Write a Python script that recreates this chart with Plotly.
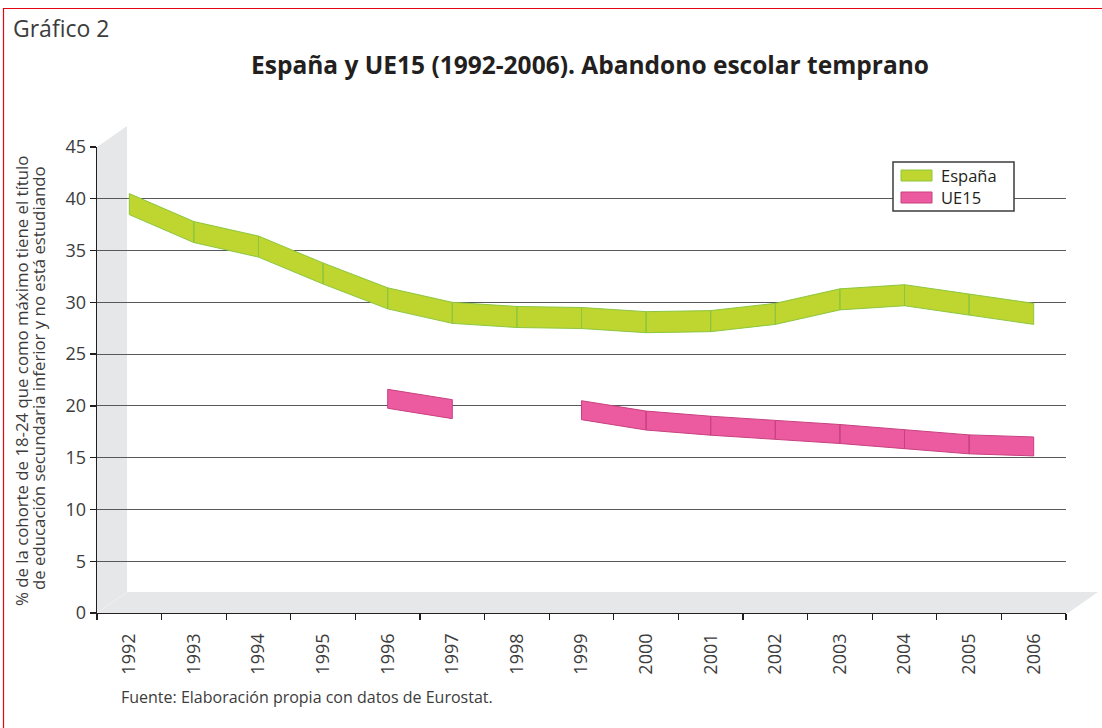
import plotly.graph_objects as go

# ---------------- data ----------------
years = ["1992", "1993", "1994", "1995", "1996", "1997", "1998", "1999",
         "2000", "2001", "2002", "2003", "2004", "2005", "2006"]
espana = [40.5, 37.8, 36.4, 33.8, 31.4, 30.0, 29.6, 29.5, 29.1, 29.2, 29.9, 31.3, 31.7, 30.8, 29.9]
ue15 = [None, None, None, None, 21.6, 20.6, None, 20.5, 19.5, 19.0, 18.6, 18.2, 17.7, 17.2, 17.0]
y_ticks = [0, 5, 10, 15, 20, 25, 30, 35, 40, 45]

# ---------------- layout geometry (page pixels) ----------------
W, H = 1102, 728
L, R, T, B = 97, 1066, 147, 613  # plot area edges in page pixels


def px(x):
    return (x - L) / (R - L)


def py(y):
    return (B - y) / (B - T)


FONT = "Open Sans"
TXT = "#231f20"
GREY_TXT = "#3c3c3c"


def ribbon(values, thick):
    xs, ys = [], []
    for i in range(len(values) - 1):
        a, b = values[i], values[i + 1]
        if a is None or b is None:
            continue
        xs += [i, i + 1, i + 1, i, i, None]
        ys += [a, b, b - thick, a - thick, a, None]
    return xs, ys


fig = go.Figure()

ex, ey = ribbon(espana, 2.03)
fig.add_trace(go.Scatter(x=ex, y=ey, mode="lines", fill="toself",
                         fillcolor="#bed62f", line=dict(color="#8cc63f", width=1),
                         name="España", showlegend=False, hoverinfo="skip"))
ux, uy = ribbon(ue15, 1.83)
fig.add_trace(go.Scatter(x=ux, y=uy, mode="lines", fill="toself",
                         fillcolor="#ec5ba0", line=dict(color="#c7417f", width=1),
                         name="UE15", showlegend=False, hoverinfo="skip"))
# dummy trace for boundary tick axis
fig.add_trace(go.Scatter(x=[-0.5], y=[0], xaxis="x2", mode="markers",
                         marker=dict(opacity=0), showlegend=False, hoverinfo="skip"))

n = len(years)
shapes = []
# gray 3D wall + floor
wall = [(97, 147), (127, 126), (127, 592), (1098, 592), (1068, 613), (97, 613)]
path = "M " + " L ".join(f"{px(x)},{py(y)}" for x, y in wall) + " Z"
shapes.append(dict(type="path", xref="paper", yref="paper", path=path,
                   fillcolor="#e6e7e8", line=dict(width=0), layer="below"))
shapes.append(dict(type="line", xref="paper", yref="paper", x0=px(97), y0=py(613),
                   x1=px(127), y1=py(592), line=dict(color="#f1f1f2", width=1), layer="below"))

# legend box
shapes.append(dict(type="rect", xref="paper", yref="paper", x0=px(893), y0=py(162),
                   x1=px(1014), y1=py(211), fillcolor="white",
                   line=dict(color="#3c3c3c", width=1.5), layer="above"))
shapes.append(dict(type="rect", xref="paper", yref="paper", x0=px(901), y0=py(170),
                   x1=px(932), y1=py(181), fillcolor="#bed62f",
                   line=dict(color="#8cc63f", width=1), layer="above"))
shapes.append(dict(type="rect", xref="paper", yref="paper", x0=px(901), y0=py(192),
                   x1=px(932), y1=py(203), fillcolor="#ec5ba0",
                   line=dict(color="#c7417f", width=1), layer="above"))
# red frame
shapes.append(dict(type="rect", xref="paper", yref="paper", x0=px(3.5), y0=py(8.5),
                   x1=px(1300), y1=py(900), fillcolor="rgba(0,0,0,0)",
                   line=dict(color="#e30613", width=1.2), layer="above"))

annotations = [
    dict(text="Gráfico 2", xref="paper", yref="paper", x=px(11), y=py(28),
         xanchor="left", yanchor="middle", showarrow=False,
         font=dict(family=FONT, size=23, color=GREY_TXT)),
    dict(text="<b>España y UE15 (1992-2006). Abandono escolar temprano</b>",
         xref="paper", yref="paper", x=px(590), y=py(64), xanchor="center",
         yanchor="middle", showarrow=False, font=dict(family=FONT, size=24.5, color=TXT)),
    dict(text="% de la cohorte de 18-24 que como máximo tiene el título",
         xref="paper", yref="paper", x=px(21), y=py(381), xanchor="center",
         yanchor="middle", textangle=-90, showarrow=False,
         font=dict(family=FONT, size=16.8, color=GREY_TXT)),
    dict(text="de educación secundaria inferior y no está estudiando",
         xref="paper", yref="paper", x=px(38), y=py(378), xanchor="center",
         yanchor="middle", textangle=-90, showarrow=False,
         font=dict(family=FONT, size=16.8, color=GREY_TXT)),
    dict(text="Fuente: Elaboración propia con datos de Eurostat.",
         xref="paper", yref="paper", x=px(119), y=py(697), xanchor="left",
         yanchor="middle", showarrow=False,
         font=dict(family=FONT, size=16, color=GREY_TXT)),
    dict(text="España", xref="paper", yref="paper", x=px(939), y=py(175.5),
         xanchor="left", yanchor="middle", showarrow=False,
         font=dict(family=FONT, size=16.5, color=TXT)),
    dict(text="UE15", xref="paper", yref="paper", x=px(939), y=py(197.5),
         xanchor="left", yanchor="middle", showarrow=False,
         font=dict(family=FONT, size=16.5, color=TXT)),
]

fig.update_layout(
    width=W, height=H,
    margin=dict(l=L, r=W - R, t=T, b=H - B, pad=0),
    paper_bgcolor="white", plot_bgcolor="rgba(0,0,0,0)",
    showlegend=False,
    shapes=shapes, annotations=annotations,
    xaxis=dict(range=[-0.5, n - 0.5], tickvals=list(range(n)), ticktext=years,
               tickangle=-90, ticks="", showgrid=False, zeroline=False,
               showline=True, linecolor=TXT, linewidth=1.3,
               ticklabelstandoff=12,
               tickfont=dict(family=FONT, size=18, color=GREY_TXT)),
    xaxis2=dict(range=[-0.5, n - 0.5], overlaying="x", anchor="y", side="bottom",
                tickvals=[k - 0.5 for k in range(n + 1)], ticks="outside",
                ticklen=6, tickwidth=1.3, tickcolor=TXT, showticklabels=False,
                showgrid=False, zeroline=False, showline=False),
    yaxis=dict(range=[0, 45], tickvals=y_ticks, ticks="outside", ticklen=6,
               tickwidth=1.3, tickcolor=TXT, showline=True, linecolor=TXT,
               linewidth=1.3, showgrid=True, gridcolor="#58595b", gridwidth=1,
               zeroline=False,
               tickfont=dict(family=FONT, size=18, color=GREY_TXT)),
)

fig.write_html("out.html",
               config={"displayModeBar": False, "staticPlot": True},
               post_script="document.body.style.margin='0';"
                           "document.body.style.overflow='hidden';")
